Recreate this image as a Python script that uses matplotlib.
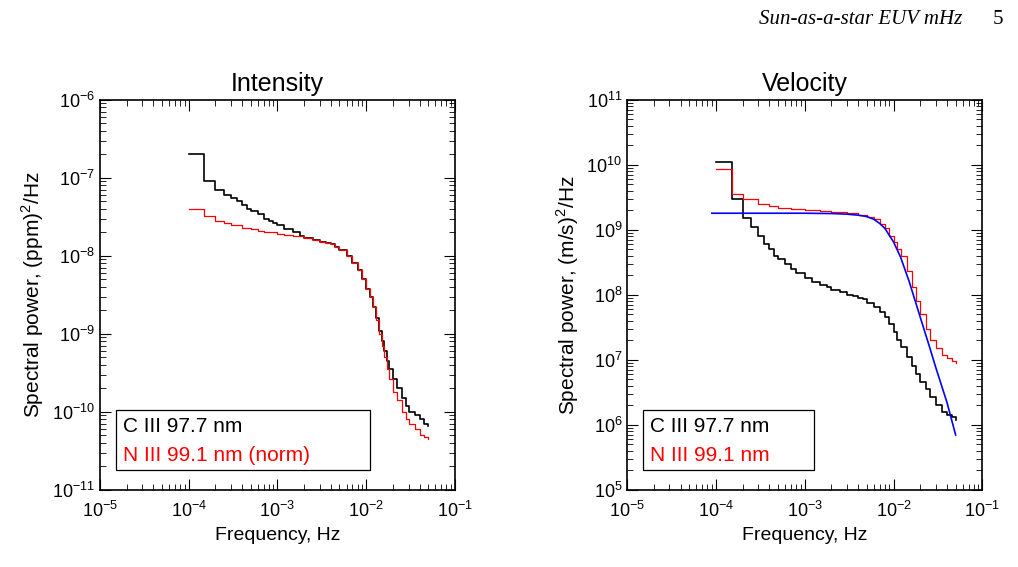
import matplotlib
matplotlib.use("Agg")
import matplotlib.pyplot as plt
from matplotlib.ticker import LogLocator, NullFormatter
from matplotlib.patches import Rectangle

plt.rcParams['font.family'] = ['Liberation Sans', 'DejaVu Sans']
plt.rcParams['mathtext.fontset'] = 'custom'
plt.rcParams['mathtext.rm'] = 'Liberation Sans'

fi_b = [1e-4,1.5e-4,2e-4,2.5e-4,3e-4,3.5e-4,4e-4,4.5e-4,5e-4,6e-4,7e-4,8e-4,9e-4,1e-3,1.2e-3,1.5e-3,1.8e-3,2e-3,2.5e-3,3e-3,3.5e-3,4e-3,4.5e-3,5e-3,6e-3,7e-3,8e-3,9e-3,1e-2,1.1e-2,1.2e-2,1.3e-2,1.4e-2,1.5e-2,1.6e-2,1.7e-2,1.8e-2,2e-2,2.2e-2,2.5e-2,2.8e-2,3e-2,3.5e-2,4e-2,4.5e-2,5e-2]
pi_b = [2e-7,9e-8,7e-8,6e-8,5.5e-8,5e-8,4.5e-8,4e-8,3.8e-8,3.4e-8,3e-8,2.8e-8,2.6e-8,2.5e-8,2.2e-8,2e-8,1.8e-8,1.7e-8,1.6e-8,1.5e-8,1.45e-8,1.4e-8,1.3e-8,1.2e-8,1e-8,8e-9,6.5e-9,5e-9,3.8e-9,3e-9,2.2e-9,1.6e-9,1.1e-9,8e-10,6e-10,4.5e-10,3.5e-10,2.6e-10,2e-10,1.5e-10,1.2e-10,1e-10,9e-11,8e-11,7e-11,6.5e-11]
fi_r = [1e-4,1.5e-4,2e-4,2.5e-4,3e-4,4e-4,5e-4,6e-4,7e-4,8e-4,1e-3,1.2e-3,1.5e-3,2e-3,2.5e-3,3e-3,3.5e-3,4e-3,4.5e-3,5e-3,6e-3,7e-3,8e-3,9e-3,1e-2,1.1e-2,1.2e-2,1.3e-2,1.4e-2,1.5e-2,1.6e-2,1.7e-2,1.8e-2,2e-2,2.2e-2,2.5e-2,2.8e-2,3e-2,3.5e-2,4e-2,4.5e-2,5e-2]
pi_r = [4e-8,3.2e-8,2.8e-8,2.6e-8,2.5e-8,2.3e-8,2.2e-8,2.1e-8,2e-8,2e-8,1.9e-8,1.85e-8,1.8e-8,1.7e-8,1.6e-8,1.5e-8,1.45e-8,1.4e-8,1.3e-8,1.2e-8,1e-8,8e-9,6.5e-9,5e-9,3.8e-9,3e-9,2.2e-9,1.5e-9,1e-9,7e-10,5e-10,3.5e-10,2.6e-10,1.8e-10,1.4e-10,1e-10,8e-11,7e-11,6e-11,5e-11,4.7e-11,4.5e-11]

fv_b = [1e-4,1.5e-4,2e-4,2.5e-4,3e-4,3.5e-4,4e-4,4.5e-4,5e-4,6e-4,7e-4,8e-4,1e-3,1.2e-3,1.5e-3,1.8e-3,2e-3,2.5e-3,3e-3,3.5e-3,4e-3,4.5e-3,5e-3,6e-3,7e-3,8e-3,9e-3,1e-2,1.1e-2,1.2e-2,1.4e-2,1.6e-2,1.8e-2,2e-2,2.3e-2,2.6e-2,3e-2,3.5e-2,4e-2,4.5e-2,5e-2]
pv_b = [1.1e10,3e9,1.5e9,1.1e9,8e8,6e8,5e8,4e8,3.5e8,3e8,2.5e8,2.2e8,1.8e8,1.6e8,1.4e8,1.3e8,1.2e8,1.1e8,1e8,9.5e7,9e7,8.5e7,7.5e7,6.5e7,5.5e7,4.5e7,3.5e7,2.7e7,2e7,1.6e7,1.1e7,8e6,6e6,4.5e6,3.5e6,2.7e6,2e6,1.6e6,1.4e6,1.3e6,1.2e6]
fv_r = [1e-4,1.5e-4,2e-4,3e-4,4e-4,5e-4,7e-4,1e-3,1.5e-3,2e-3,3e-3,4e-3,5e-3,6e-3,7e-3,8e-3,9e-3,1e-2,1.1e-2,1.2e-2,1.4e-2,1.6e-2,1.8e-2,2e-2,2.3e-2,2.6e-2,3e-2,3.5e-2,4e-2,4.5e-2,5e-2]
pv_r = [8.5e9,3.5e9,3e9,2.5e9,2.3e9,2.2e9,2.1e9,2e9,1.95e9,1.9e9,1.8e9,1.7e9,1.6e9,1.45e9,1.25e9,1.05e9,8e8,6.5e8,5e8,4e8,2.3e8,1.3e8,8e7,5e7,3e7,2e7,1.5e7,1.2e7,1.05e7,9.5e6,9e6]
fv_fit = [9e-5,1e-3,2e-3,3e-3,4e-3,5e-3,6e-3,7e-3,8e-3,1e-2,1.2e-2,1.5e-2,2e-2,2.5e-2,3e-2,4e-2,5e-2]
pv_fit = [1.8e9,1.8e9,1.78e9,1.74e9,1.68e9,1.6e9,1.45e9,1.25e9,1.05e9,6.5e8,3.8e8,1.6e8,4.5e7,1.7e7,7.5e6,2.2e6,7e5]

fig = plt.figure(figsize=(10.18,5.67), dpi=100)
fig.text(0.945, 0.965, "Sun-as-a-star EUV mHz", ha='right', va='center', style='italic', family='Liberation Serif', fontsize=15)
fig.text(0.985, 0.965, "5", ha='right', va='center', family='Liberation Serif', fontsize=15)

def setup(ax, title, ylab, ylim):
    ax.set_xscale('log'); ax.set_yscale('log')
    ax.set_xlim(1e-5, 1e-1); ax.set_ylim(*ylim)
    ax.set_title(title, fontsize=18)
    ax.set_xlabel("Frequency, Hz", fontsize=14)
    ax.set_ylabel(ylab, fontsize=15)
    ax.tick_params(which='both', direction='in', top=True, right=True, labelsize=13)
    ax.tick_params(axis='x', pad=8)
    ax.tick_params(which='major', length=8)
    ax.tick_params(which='minor', length=4)
    ax.xaxis.set_minor_locator(LogLocator(subs=range(2,10), numticks=20))
    ax.yaxis.set_minor_locator(LogLocator(subs=range(2,10), numticks=20))
    ax.xaxis.set_minor_formatter(NullFormatter()); ax.yaxis.set_minor_formatter(NullFormatter())
    ax.yaxis.set_major_locator(LogLocator(numticks=20))
    for s in ax.spines.values(): s.set_linewidth(1.2)

ax1 = fig.add_axes([0.098, 0.136, 0.349, 0.688])
ax1.step(fi_b, pi_b, where='post', color='black', lw=1.2)
ax1.step(fi_r, pi_r, where='post', color='red', lw=0.9)
setup(ax1, "Intensity", r"Spectral power, (ppm)$^2$/Hz", (1e-11, 1e-6))

ax2 = fig.add_axes([0.616, 0.136, 0.349, 0.688])
ax2.step(fv_b, pv_b, where='post', color='black', lw=1.2)
ax2.step(fv_r, pv_r, where='post', color='red', lw=0.9)
ax2.plot(fv_fit, pv_fit, color='blue', lw=1.2)
setup(ax2, "Velocity", r"Spectral power, (m/s)$^2$/Hz", (1e5, 1e11))

def legbox(ax, lines, w):
    ax.text(0.065, 0.162, lines[0], transform=ax.transAxes, fontsize=15, color='black', va='center')
    ax.text(0.065, 0.088, lines[1], transform=ax.transAxes, fontsize=15, color='red', va='center')
    ax.add_patch(Rectangle((0.045, 0.05), w, 0.155, transform=ax.transAxes, fill=False, lw=0.9, color='black'))

legbox(ax1, ["C III 97.7 nm", "N III 99.1 nm (norm)"], 0.715)
legbox(ax2, ["C III 97.7 nm", "N III 99.1 nm"], 0.48)
fig.savefig("out.png", dpi=100)
